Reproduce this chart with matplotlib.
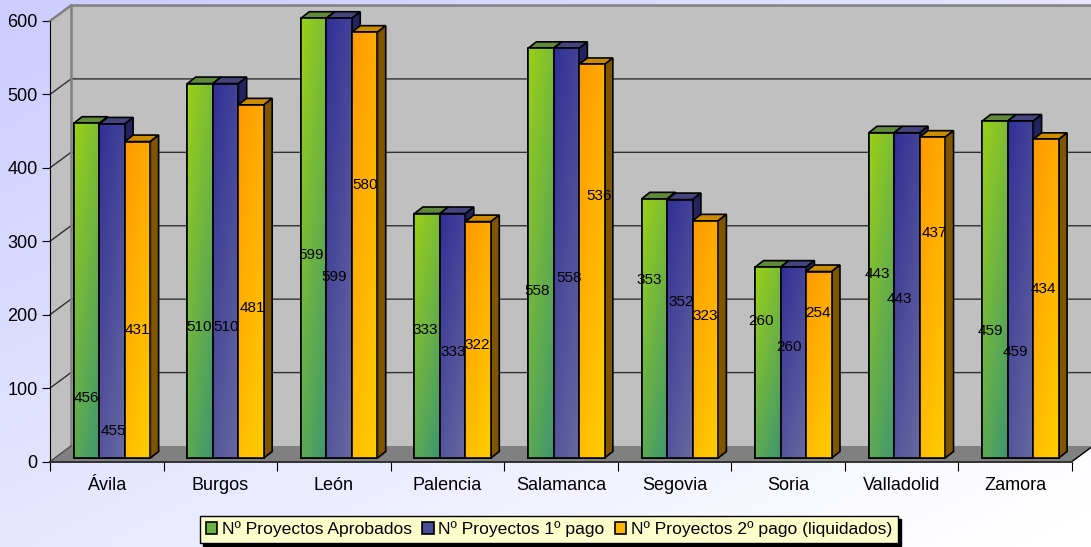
import numpy as np
import matplotlib
matplotlib.use('Agg')
from matplotlib import pyplot as plt
from matplotlib.patches import Polygon, Rectangle

plt.rcParams['font.family'] = ['Liberation Sans', 'DejaVu Sans']

provincias = ['Ávila', 'Burgos', 'León', 'Palencia', 'Salamanca', 'Segovia', 'Soria', 'Valladolid', 'Zamora']
aprobados = [456, 510, 599, 333, 558, 353, 260, 443, 459]
primer_pago = [455, 510, 599, 333, 558, 352, 260, 443, 459]
segundo_pago = [431, 481, 580, 322, 536, 323, 254, 437, 434]
series_names = ['Nº Proyectos Aprobados', 'Nº Proyectos 1º pago', 'Nº Proyectos 2º pago (liquidados)']

# where excel dropped each data label: height along the bar, and a sideways nudge in pixels
label_h = [[82, 179, 277, 175, 227, 243, 186, 250, 173],
           [37, 179, 246, 145, 245, 212, 151, 217, 144],
           [175, 204, 372, 154, 357, 194, 198, 307, 230]]
label_dx = [[0, -1, -3, -2, -4, -5, -7, -4, -5],
            [1, 0, -5, 0, 3, 1, -4, -8, -5],
            [0, 1, 0, -1, 7, 0, -1, 2, -3]]

W, H = 1091, 547
X0, X1, Y0, Y1 = 50, 1072, 461.5, 21
PX = 9 / (X1 - X0)
PY = 600 / (Y0 - Y1)

# depth of the room and of each bar, in data units
room_x, room_y = 21 * PX, 15.5 * PY
bar_dx, bar_dy = 8.3 * PX, 6.5 * PY
shift_x, shift_y = 5.3 * PX, 3.5 * PY
bar_w = 25.5 * PX
group_left = (1 - 3 * bar_w) / 2 + shift_x

fig = plt.figure(figsize=(W / 100, H / 100), dpi=100)

# page background, lavender fading to white
bg = fig.add_axes([0, 0, 1, 1], zorder=0)
bg.axis('off')
yy, xx = np.mgrid[0:1:64j, 0:1:64j]
t = np.clip((xx * 0.52 + yy * 0.52), 0, 1)[..., None]
bg.imshow(np.array([204, 204, 255]) / 255 * (1 - t) + t, extent=(0, 1, 0, 1), aspect='auto',
          origin='upper', interpolation='bilinear')

ax = fig.add_axes([X0 / W, 1 - Y0 / H, (X1 - X0) / W, (Y0 - Y1) / H], zorder=1)
ax.patch.set_visible(False)

# walls and floor
ax.add_patch(Rectangle((room_x, room_y), 9, 600, fc='#c0c0c0', ec='none', clip_on=False, zorder=1))
ax.add_patch(Polygon([(0, 0), (room_x, room_y), (room_x, 600 + room_y), (0, 600)],
                     fc='#c0c0c0', ec='none', clip_on=False, zorder=1))
ax.add_patch(Polygon([(0, 0), (9, 0), (9 + room_x, room_y), (room_x, room_y)],
                     fc='#808080', ec='none', clip_on=False, zorder=2))
for v in range(100, 600, 100):
    ax.plot([0, room_x, 9 + room_x], [v, v + room_y, v + room_y], color='#303030', lw=1,
            clip_on=False, zorder=2, solid_joinstyle='miter')
ax.plot([0, room_x, 9 + room_x], [600, 600 + room_y, 600 + room_y], color='#808080', lw=1.8, clip_on=False, zorder=2)
ax.plot([room_x, room_x], [room_y, 600 + room_y], color='#808080', lw=1.8, clip_on=False, zorder=2)
ax.plot([0, room_x], [0, room_y], color='#505050', lw=1, clip_on=False, zorder=2)
ax.plot([9, 9 + room_x], [0, room_y], color='black', lw=1, clip_on=False, zorder=2)

# (top-left, bottom-right) of the face gradient, top face, side face
styles = [
    ((155, 208, 22), (62, 150, 112), '#5f8a3a', '#4a7a2a'),
    ((48, 48, 150), (104, 104, 160), '#44447f', '#23235f'),
    ((255, 153, 0), (255, 206, 0), '#cc8c00', '#7f5500'),
]
all_series = [aprobados, primer_pago, segundo_pago]
z = 3
handles = []
for s, vals in enumerate(all_series):
    c0, c1, top_c, side_c = styles[s]
    x = np.arange(9) + group_left + s * bar_w
    mid = tuple((np.array(c0) + np.array(c1)) / 2 / 255)
    bars = ax.bar(x, vals, bar_w, bottom=shift_y, align='edge', color=mid, edgecolor='black', lw=1.2,
                  clip_on=False, zorder=z + s * 10 + 2)
    handles.append(bars)
    for k, rect in enumerate(bars):
        l, b, v = rect.get_x(), rect.get_y(), rect.get_height()
        r = l + bar_w
        zs = rect.get_zorder()
        ax.add_patch(Polygon([(l, b + v), (r, b + v), (r + bar_dx, b + v + bar_dy), (l + bar_dx, b + v + bar_dy)],
                             fc=top_c, ec='black', lw=1.2, clip_on=False, zorder=zs - 1))
        ax.add_patch(Polygon([(r, b), (r + bar_dx, b + bar_dy), (r + bar_dx, b + v + bar_dy), (r, b + v)],
                             fc=side_c, ec='black', lw=1.2, clip_on=False, zorder=zs - 1))
        gy, gx = np.mgrid[0:1:32j, 0:1:32j]
        g = (0.35 * gx + 0.65 * gy)[..., None]
        img = ax.imshow((np.array(c0) * (1 - g) + np.array(c1) * g) / 255, extent=(l, r, b, b + v), origin='upper',
                        aspect='auto', interpolation='bilinear', zorder=zs + 0.1, clip_on=True)
        img.set_clip_path(rect)
        ax.add_patch(Rectangle((l, b), bar_w, v, fc='none', ec='black', lw=1.2, clip_on=False, zorder=zs + 0.2))

# data labels sit on top of all bars
for s, vals in enumerate(all_series):
    for k, v in enumerate(vals):
        ax.annotate(str(v), xy=(k + group_left + (s + 0.5) * bar_w, label_h[s][k] + shift_y),
                    xytext=(label_dx[s][k], 0), textcoords='offset pixels',
                    ha='center', va='center', fontsize=11, color='black', zorder=60, annotation_clip=False)

ax.set_xlim(0, 9)
ax.set_ylim(0, 600)
ax.set_yticks(range(0, 700, 100))
ax.set_xticks(range(10))
ax.set_xticklabels([])
ax.set_xticks(np.arange(9) + 0.5, provincias, minor=True)
ax.tick_params(axis='x', which='minor', length=0, labelsize=13, pad=11.5)
ax.tick_params(axis='x', which='major', length=8.5 * 0.72, width=0.8)
ax.tick_params(axis='y', length=8 * 0.72, width=0.8, labelsize=13, pad=3)
ax.spines['top'].set_visible(False)
ax.spines['right'].set_visible(False)
ax.spines['left'].set_zorder(2.5)
ax.spines['bottom'].set_color('#303030')
ax.spines['bottom'].set_linewidth(1.4)

leg = ax.legend([h[0] for h in handles], series_names, ncol=3, loc='center', fontsize=12.6,
                bbox_to_anchor=(549 / W, 1 - 529.5 / H), bbox_transform=fig.transFigure,
                fancybox=False, framealpha=1, facecolor='#ffffcc', edgecolor='black',
                shadow={'ox': 2.2, 'oy': -2.2, 'color': 'black', 'alpha': 1},
                handlelength=0.64, handleheight=0.7, handletextpad=0.25, columnspacing=0.62,
                borderpad=0.32, borderaxespad=0)
leg.set_zorder(70)
leg.get_frame().set_linewidth(1)

fig.savefig('out.png', dpi=100)
